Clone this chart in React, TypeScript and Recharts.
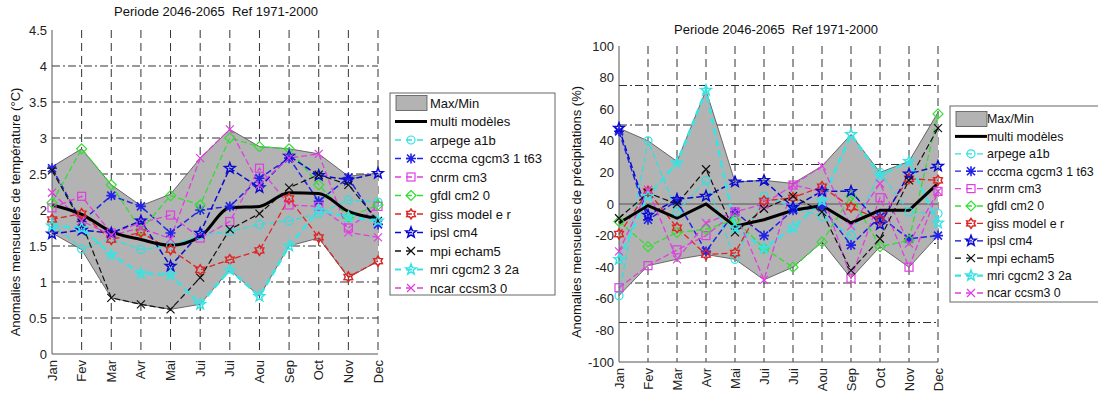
import React from "react";
import { ComposedChart, Line, Area, XAxis, YAxis, CartesianGrid, ReferenceLine } from "recharts";

const monthLabels = ["Jan", "Fev", "Mar", "Avr", "Mai", "Jui", "Jui", "Aou", "Sep", "Oct", "Nov", "Dec"];
const monthIdx = monthLabels.map((_, i) => i);

// temperature anomalies (°C)
const tMax = [2.6, 2.85, 2.35, 2.06, 2.22, 2.72, 3.12, 2.88, 2.85, 2.78, 2.47, 2.51];
const tMin = [1.68, 1.45, 0.78, 0.69, 0.62, 0.69, 1.17, 0.8, 1.5, 1.61, 1.06, 1.29];
const tMulti = [2.07, 1.94, 1.7, 1.59, 1.51, 1.63, 2.03, 2.05, 2.24, 2.23, 1.98, 1.88];
const tArpege = [1.82, 1.46, 1.6, 1.45, 1.5, 1.65, 1.7, 1.8, 1.85, 1.95, 2.14, 2.11];
const tCccma = [2.58, 1.84, 2.2, 2.05, 1.68, 2.0, 2.05, 2.44, 2.72, 2.12, 2.45, 1.8];
const tCnrm = [2.03, 2.19, 1.68, 1.82, 1.93, 1.61, 1.84, 2.58, 2.07, 2.05, 1.75, 2.05];
const tGfdl = [2.1, 2.85, 2.35, 1.72, 2.2, 2.07, 3.0, 2.88, 2.85, 2.35, 1.9, 2.07];
const tGiss = [1.87, 1.95, 1.59, 1.69, 1.45, 1.17, 1.31, 1.44, 2.16, 1.62, 1.07, 1.29];
const tIpsl = [1.67, 1.72, 1.68, 1.85, 1.22, 1.68, 2.58, 2.31, 2.75, 2.48, 2.42, 2.51];
const tMpi = [2.55, 1.82, 0.78, 0.69, 0.62, 1.06, 1.73, 1.95, 2.31, 2.49, 2.35, 1.85];
const tMri = [1.78, 1.75, 1.38, 1.12, 1.1, 0.69, 1.17, 0.8, 1.5, 2.0, 1.9, 1.85];
const tNcar = [2.24, 1.85, 1.65, 1.75, 1.6, 2.72, 3.12, 2.35, 2.72, 2.78, 1.69, 1.62];
const tTicks = [0, 0.5, 1, 1.5, 2, 2.5, 3, 3.5, 4, 4.5];
const tGrid = [0.5, 1, 1.5, 2, 2.5, 3, 3.5, 4];

// precipitation anomalies (%)
const pMax = [48, 40, 27, 72, 14, 15, 13, 24, 44, 20, 27, 58];
const pMin = [-58, -39, -35, -32, -35, -48, -40, -24, -47, -27, -40, -20];
const pMulti = [-12, -1, -9, 0, -14, -10, -4, -1, -12, -4, -4, 13];
const pArpege = [-58, 40, -5, 15, -35, 5, -2, -8, -20, 20, -5, -6];
const pCccma = [46, -10, 2, -30, -5, -20, -4, -2, -26, -8, -22, -20];
const pCnrm = [-53, -39, -29, -20, -5, 0, 12, 8, -47, 4, -40, 8];
const pGfdl = [-11, -27, -18, -16, -10, -28, -40, -24, 5, -27, -23, 57];
const pGiss = [-19, 8, -15, -32, -31, 2, 4, 11, -2, -10, 16, 15];
const pIpsl = [48, -7, 3, 5, 14, 15, -2, 8, 8, -13, 19, 24];
const pMpi = [-9, 7, 0, 22, -18, -3, 5, -5, -42, -22, 15, 48];
const pMri = [-35, 5, 26, 72, -15, -28, -15, 2, 44, 18, 27, -12];
const pNcar = [-30, 9, -35, -12, -5, -48, 12, 24, -14, 13, -25, 8];
const pTicks = [-100, -80, -60, -40, -20, 0, 20, 40, 60, 80, 100];
const pGrid = [-75, -50, -25, 25, 50, 75];

type Shape = "circle" | "asterisk" | "square" | "diamond" | "hexagram" | "pentagram" | "x";

const models: { key: string; label: string; color: string; shape: Shape; width: number }[] = [
  { key: "arpege", label: "arpege a1b", color: "#2ee0e0", shape: "circle", width: 1.3 },
  { key: "cccma", label: "cccma cgcm3 1 t63", color: "#2323e6", shape: "asterisk", width: 1.5 },
  { key: "cnrm", label: "cnrm cm3", color: "#e03ee0", shape: "square", width: 1.3 },
  { key: "gfdl", label: "gfdl cm2 0", color: "#33dd33", shape: "diamond", width: 1.3 },
  { key: "giss", label: "giss model e r", color: "#e02424", shape: "hexagram", width: 1.3 },
  { key: "ipsl", label: "ipsl cm4", color: "#0a0ad0", shape: "pentagram", width: 1.5 },
  { key: "mpi", label: "mpi echam5", color: "#111111", shape: "x", width: 1.2 },
  { key: "mri", label: "mri cgcm2 3 2a", color: "#3ae2e2", shape: "pentagram", width: 2.6 },
  { key: "ncar", label: "ncar ccsm3 0", color: "#e03ee0", shape: "x", width: 1.3 },
];

const tempSeries: Record<string, number[]> = {
  arpege: tArpege, cccma: tCccma, cnrm: tCnrm, gfdl: tGfdl, giss: tGiss,
  ipsl: tIpsl, mpi: tMpi, mri: tMri, ncar: tNcar,
};
const precSeries: Record<string, number[]> = {
  arpege: pArpege, cccma: pCccma, cnrm: pCnrm, gfdl: pGfdl, giss: pGiss,
  ipsl: pIpsl, mpi: pMpi, mri: pMri, ncar: pNcar,
};

const buildRows = (series: Record<string, number[]>, max: number[], min: number[], multi: number[]) =>
  monthIdx.map((i) => {
    const row: any = { i, env: [min[i], max[i]], multi: multi[i] };
    Object.keys(series).forEach((k) => (row[k] = series[k][i]));
    return row;
  });

const tempRows = buildRows(tempSeries, tMax, tMin, tMulti);
const precRows = buildRows(precSeries, pMax, pMin, pMulti);

const FONT = "'Liberation Sans', Arial, sans-serif";
const TITLE = "Periode 2046-2065\u00a0 Ref 1971-2000";

function Marker({ cx, cy, shape, color, r = 4 }: { cx: number; cy: number; shape: Shape; color: string; r?: number }) {
  const common = { fill: "none", stroke: color, strokeWidth: 1.2 };
  if (cx == null || cy == null) return null;
  switch (shape) {
    case "circle":
      return <circle cx={cx} cy={cy} r={r} {...common} />;
    case "square":
      return <rect x={cx - r} y={cy - r} width={2 * r} height={2 * r} {...common} />;
    case "diamond":
      return <polygon points={`${cx},${cy - r - 1} ${cx + r + 1},${cy} ${cx},${cy + r + 1} ${cx - r - 1},${cy}`} {...common} />;
    case "x":
      return <path d={`M${cx - r},${cy - r}L${cx + r},${cy + r}M${cx + r},${cy - r}L${cx - r},${cy + r}`} {...common} />;
    case "asterisk":
      return (
        <path
          d={`M${cx - r},${cy - r}L${cx + r},${cy + r}M${cx + r},${cy - r}L${cx - r},${cy + r}M${cx},${cy - r - 1}L${cx},${cy + r + 1}M${cx - r - 1},${cy}L${cx + r + 1},${cy}`}
          {...common}
          strokeWidth={1.6}
        />
      );
    case "pentagram": {
      const pts: string[] = [];
      for (let k = 0; k < 10; k++) {
        const rad = k % 2 === 0 ? r + 1.5 : (r + 1.5) * 0.42;
        const a = -Math.PI / 2 + (k * Math.PI) / 5;
        pts.push(`${cx + rad * Math.cos(a)},${cy + rad * Math.sin(a)}`);
      }
      return <polygon points={pts.join(" ")} {...common} strokeWidth={1.5} />;
    }
    case "hexagram": {
      const pts: string[] = [];
      for (let k = 0; k < 12; k++) {
        const rad = k % 2 === 0 ? r + 1 : (r + 1) * 0.62;
        const a = -Math.PI / 2 + (k * Math.PI) / 6;
        pts.push(`${cx + rad * Math.cos(a)},${cy + rad * Math.sin(a)}`);
      }
      return <polygon points={pts.join(" ")} {...common} strokeWidth={1.5} />;
    }
  }
  return null;
}

const MonthTick = (props: any) => {
  const { x, y, payload } = props;
  return (
    <text
      x={x}
      y={y}
      transform={`rotate(-90 ${x} ${y})`}
      textAnchor="end"
      dx={-4}
      dy={4.5}
      fontSize={13}
      fill="#222"
      fontFamily={FONT}
    >
      {monthLabels[payload.value]}
    </text>
  );
};

function AnomalyChart({
  rows,
  width,
  height,
  top,
  yWidth,
  xHeight,
  right,
  domain,
  ticks,
  grid,
  zeroLine,
  smooth,
}: {
  rows: any[];
  width: number;
  height: number;
  top: number;
  yWidth: number;
  xHeight: number;
  right: number;
  domain: [number, number];
  ticks: number[];
  grid: number[];
  zeroLine?: boolean;
  smooth?: boolean;
}) {
  return (
    <ComposedChart width={width} height={height} data={rows} margin={{ top, right, bottom: 0, left: 0 }}>
      <XAxis
        dataKey="i"
        type="number"
        domain={[0, 11]}
        ticks={monthIdx}
        interval={0}
        tick={<MonthTick />}
        tickLine={false}
        tickSize={0}
        height={xHeight}
        axisLine={{ stroke: "#555" }}
      />
      <YAxis
        type="number"
        domain={domain}
        ticks={ticks}
        allowDataOverflow
        interval={0}
        width={yWidth}
        tickLine={false}
        tickSize={0}
        tickMargin={5}
        axisLine={{ stroke: "#555" }}
        tick={{ fill: "#222", fontSize: 13, fontFamily: FONT }}
      />
      <Area
        dataKey="env"
        type="linear"
        fill="#b3b3b3"
        fillOpacity={1}
        stroke="#4a4a4a"
        strokeWidth={0.8}
        dot={false}
        activeDot={false}
        isAnimationActive={false}
      />
      <CartesianGrid vertical={false} horizontalValues={grid} stroke="#333" strokeDasharray="8 3 2 3" />
      <CartesianGrid horizontal={false} verticalValues={monthIdx.slice(1)} stroke="#333" strokeDasharray="8 5" />
      {zeroLine && <ReferenceLine y={0} stroke="#555" strokeWidth={1} />}
      {models.map((m) => (
        <Line
          key={m.key}
          dataKey={m.key}
          type="linear"
          stroke={m.color}
          strokeWidth={m.width}
          strokeDasharray={m.width > 2 ? "7 4" : "6 3"}
          dot={(p: any) => (
            <Marker key={`${m.key}-${p.index}`} cx={p.cx} cy={p.cy} shape={m.shape} color={m.color} />
          )}
          activeDot={false}
          isAnimationActive={false}
        />
      ))}
      <Line
        dataKey="multi"
        type={smooth ? "monotone" : "linear"}
        stroke="#000"
        strokeWidth={3}
        dot={false}
        activeDot={false}
        isAnimationActive={false}
      />
    </ComposedChart>
  );
}

function LegendBox({
  x, y, w, h, rowY, step, textX, fontSize,
}: { x: number; y: number; w: number; h: number; rowY: number; step: number; textX: number; fontSize: number }) {
  const sx = x + 5;
  const sw = 32;
  const txt = { fontSize, fill: "#111", fontFamily: FONT, dy: "0.35em" };
  return (
    <g>
      <rect x={x} y={y} width={w} height={h} fill="#fff" stroke="#666" strokeWidth={1} />
      <rect x={sx + 1} y={rowY - 7.5} width={sw - 1} height={15} fill="#b3b3b3" stroke="#555" strokeWidth={0.8} />
      <text x={textX} y={rowY} {...txt}>Max/Min</text>
      <line x1={sx} x2={sx + sw} y1={rowY + step} y2={rowY + step} stroke="#000" strokeWidth={3} />
      <text x={textX} y={rowY + step} {...txt}>multi modèles</text>
      {models.map((m, k) => {
        const ry = rowY + step * (k + 2);
        return (
          <g key={m.key}>
            <line x1={sx} x2={sx + sw} y1={ry} y2={ry} stroke={m.color} strokeWidth={m.width > 2 ? 2.2 : 1.3} strokeDasharray="6 5" />
            <Marker cx={sx + sw / 2} cy={ry} shape={m.shape} color={m.color} />
            <text x={textX} y={ry} {...txt}>{m.label}</text>
          </g>
        );
      })}
    </g>
  );
}

export default function App() {
  return (
    <div style={{ position: "absolute", left: 0, top: 0, width: 1098, height: 396, background: "#fff", overflow: "hidden", fontFamily: FONT }}>
      <div style={{ position: "absolute", left: 0, top: 0 }}>
        <AnomalyChart
          rows={tempRows}
          width={400}
          height={396}
          top={30}
          yWidth={52}
          xHeight={42}
          right={22}
          domain={[0, 4.5]}
          ticks={tTicks}
          grid={tGrid}
          smooth
        />
      </div>
      <div style={{ position: "absolute", left: 560, top: 0 }}>
        <AnomalyChart
          rows={precRows}
          width={400}
          height={396}
          top={46}
          yWidth={59}
          xHeight={34}
          right={22}
          domain={[-100, 100]}
          ticks={pTicks}
          grid={pGrid}
          zeroLine
        />
      </div>
      <svg width={1098} height={396} style={{ position: "absolute", left: 0, top: 0, pointerEvents: "none" }}>
        <text x={216} y={16} textAnchor="middle" fontSize={13} fill="#111" fontFamily={FONT}>{TITLE}</text>
        <text x={776} y={34} textAnchor="middle" fontSize={13} fill="#111" fontFamily={FONT}>{TITLE}</text>
        <text x={15} y={212} transform="rotate(-90 15 212)" textAnchor="middle" dy="0.35em" fontSize={13} fill="#111" fontFamily={FONT}>
          Anomalies mensuelles de température (°C)
        </text>
        <text x={576} y={212} transform="rotate(-90 576 212)" textAnchor="middle" dy="0.35em" fontSize={13} fill="#111" fontFamily={FONT}>
          Anomalies mensuelles de précipitations (%)
        </text>
        <LegendBox x={390} y={93} w={165} h={202} rowY={103} step={18.5} textX={430} fontSize={13} />
        <LegendBox x={950} y={106} w={170} h={196} rowY={119} step={17.4} textX={987} fontSize={12.4} />
      </svg>
    </div>
  );
}
